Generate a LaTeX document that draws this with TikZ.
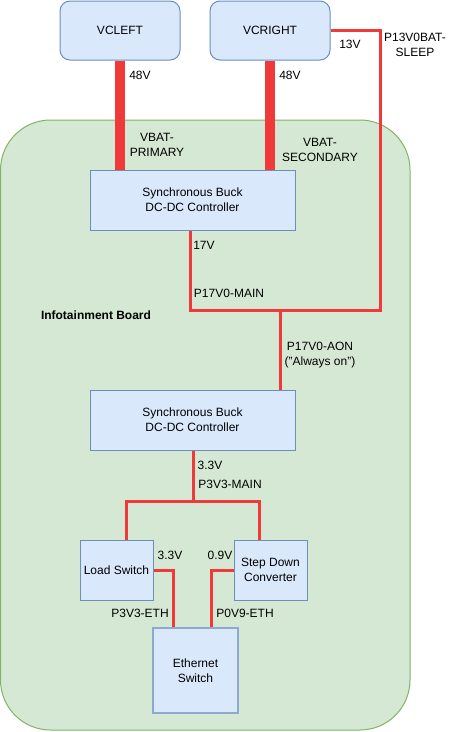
\documentclass[tikz,border=0pt]{standalone}
\usepackage{fontspec}
\setmainfont{Liberation Sans}
\begin{document}
\begin{tikzpicture}[x=1pt,y=-1pt,
  font=\fontsize{12}{15}\selectfont,
  box/.style={draw=boxline, fill=boxfill, line width=1pt, align=center, inner sep=0pt},
  wire/.style={draw=wirered, line width=3pt},
  fat/.style={draw=wirered, line width=10pt},
  lbl/.style={align=center, inner sep=0pt}]
\definecolor{boxline}{HTML}{6C8EBF}
\definecolor{ethline}{HTML}{8EA8D0}
\definecolor{boxfill}{HTML}{DAE8FC}
\definecolor{wirered}{HTML}{F03A3A}
\definecolor{greenfill}{HTML}{D5E8D4}
\definecolor{greenline}{HTML}{82B366}
\useasboundingbox (0,0) rectangle (451,732);
% board
\path[draw=greenline, fill=greenfill, line width=1pt, rounded corners=50pt] (0.5,120) rectangle (410,730);
% nodes
\node[box, rounded corners=10pt, minimum width=120pt, minimum height=59pt] (vcleft) at (120,30.5) {VCLEFT};
\node[box, rounded corners=10pt, minimum width=120pt, minimum height=59pt] (vcright) at (270,30.5) {VCRIGHT};
\node[box, minimum width=205pt, minimum height=60pt] (buck1) at (192.5,200) {Synchronous Buck\\DC-DC Controller};
\node[box, minimum width=205pt, minimum height=60pt] (buck2) at (192.5,420) {Synchronous Buck\\DC-DC Controller};
\node[box, minimum width=73pt, minimum height=60pt] (ls) at (116.5,570) {Load Switch};
\node[box, minimum width=73pt, minimum height=60pt] (sd) at (270.5,570) {Step Down\\Converter};
\node[box, draw=ethline, line width=2pt, minimum width=85pt, minimum height=85pt] (eth) at (195.5,670.5) {Ethernet\\Switch};
% coordinates
\coordinate (c13) at (380,310);
\coordinate (j17) at (280,310);
\coordinate (j33) at (193,501);
% connectors
\draw[fat] (vcleft.south) -- (vcleft.south |- buck1.north);
\draw[fat] (vcright.south) -- (vcright.south |- buck1.north);
\draw[wire] (vcright.east) -| (c13) -| ([xshift=-2.5pt]buck1.south);
\draw[wire] (j17) -- (j17 |- buck2.north);
\draw[wire] (buck2.south -| j33) -- (j33);
\draw[wire] ([xshift=9.5pt]ls.north) |- (j33) -| ([xshift=-11.5pt]sd.north);
\draw[wire] (ls.east) -| ([xshift=-22.5pt]eth.north);
\draw[wire] (sd.west) -| ([xshift=15.5pt]eth.north);
% labels
\node[lbl] (l48a) at (140,75) {48V};
\node[lbl] (l48b) at (290,75) {48V};
\node[lbl] (lvp) at (157,145) {VBAT-\\PRIMARY};
\node[lbl] (lvs) at (320,150) {VBAT-\\SECONDARY};
\node[lbl] (l13) at (350,44) {13V};
\node[lbl] (lsleep) at (415,45) {P13V0BAT-\\SLEEP};
\node[lbl] (l17) at (204,245) {17V};
\node[lbl] (lmain) at (229,293) {P17V0-MAIN};
\node[lbl, font=\fontsize{12}{15}\selectfont\bfseries] (lboard) at (96,315) {Infotainment Board};
\node[lbl] (laon) at (320,355) {P17V0-AON\\("Always on")};
\node[lbl] (l33) at (210,465) {3.3V};
\node[lbl] (l33m) at (230,484) {P3V3-MAIN};
\node[lbl] (l33b) at (170,555) {3.3V};
\node[lbl] (l09) at (220,555) {0.9V};
\node[lbl] (l33e) at (140,613) {P3V3-ETH};
\node[lbl] (l09e) at (245,613) {P0V9-ETH};
\end{tikzpicture}
\end{document}
